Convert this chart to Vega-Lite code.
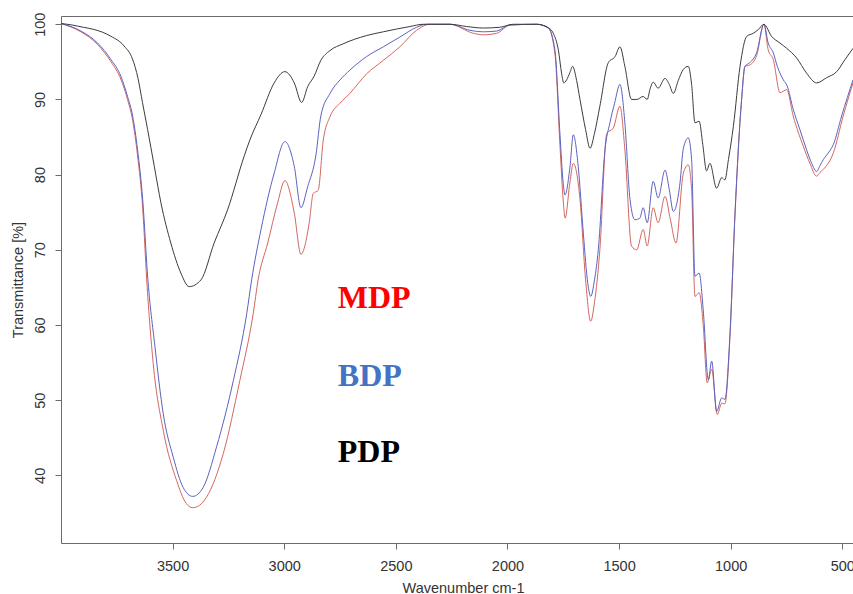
{
  "$schema": "https://vega.github.io/schema/vega-lite/v6.json",
  "width": 792,
  "height": 527,
  "autosize": {"type": "none"},
  "padding": {"left": 61, "top": 16, "right": 0, "bottom": 51},
  "background": "white",
  "config": {
    "view": {"stroke": null},
    "axis": {
      "grid": false,
      "domainColor": "#6b6b6b",
      "tickColor": "#6b6b6b",
      "labelColor": "#333333",
      "titleColor": "#333333",
      "labelFont": "Liberation Sans",
      "titleFont": "Liberation Sans",
      "labelFontSize": 14.5,
      "titleFontSize": 14.5,
      "titleFontWeight": "normal",
      "tickSize": 6
    }
  },
  "datasets": {
    "spectra": [
      {"sample": "MDP", "wn": 4000, "T": 100.1}, {"sample": "MDP", "wn": 3911, "T": 99.0}, {"sample": "MDP", "wn": 3836, "T": 97.3},
      {"sample": "MDP", "wn": 3776, "T": 95.0}, {"sample": "MDP", "wn": 3732, "T": 92.7}, {"sample": "MDP", "wn": 3702, "T": 90.0},
      {"sample": "MDP", "wn": 3679, "T": 87.2}, {"sample": "MDP", "wn": 3657, "T": 82.5}, {"sample": "MDP", "wn": 3634, "T": 75.5},
      {"sample": "MDP", "wn": 3616, "T": 66.0}, {"sample": "MDP", "wn": 3587, "T": 54.9}, {"sample": "MDP", "wn": 3542, "T": 46.0},
      {"sample": "MDP", "wn": 3482, "T": 39.3}, {"sample": "MDP", "wn": 3440, "T": 36.3}, {"sample": "MDP", "wn": 3410, "T": 35.7},
      {"sample": "MDP", "wn": 3380, "T": 36.0}, {"sample": "MDP", "wn": 3348, "T": 37.1}, {"sample": "MDP", "wn": 3273, "T": 42.9},
      {"sample": "MDP", "wn": 3199, "T": 52.6}, {"sample": "MDP", "wn": 3139, "T": 61.5}, {"sample": "MDP", "wn": 3117, "T": 66.0},
      {"sample": "MDP", "wn": 3074, "T": 70.9}, {"sample": "MDP", "wn": 3030, "T": 76.2}, {"sample": "MDP", "wn": 2997, "T": 79.2},
      {"sample": "MDP", "wn": 2955, "T": 74.9}, {"sample": "MDP", "wn": 2925, "T": 69.4}, {"sample": "MDP", "wn": 2888, "T": 73.6},
      {"sample": "MDP", "wn": 2870, "T": 77.5}, {"sample": "MDP", "wn": 2848, "T": 77.9}, {"sample": "MDP", "wn": 2825, "T": 84.6},
      {"sample": "MDP", "wn": 2795, "T": 87.7}, {"sample": "MDP", "wn": 2750, "T": 89.5}, {"sample": "MDP", "wn": 2706, "T": 90.8},
      {"sample": "MDP", "wn": 2631, "T": 93.4}, {"sample": "MDP", "wn": 2556, "T": 95.2}, {"sample": "MDP", "wn": 2482, "T": 97.0},
      {"sample": "MDP", "wn": 2407, "T": 99.2}, {"sample": "MDP", "wn": 2347, "T": 100.0}, {"sample": "MDP", "wn": 2258, "T": 100.0},
      {"sample": "MDP", "wn": 2153, "T": 98.8}, {"sample": "MDP", "wn": 2108, "T": 98.6}, {"sample": "MDP", "wn": 2048, "T": 98.8},
      {"sample": "MDP", "wn": 1989, "T": 99.9}, {"sample": "MDP", "wn": 1869, "T": 100.0}, {"sample": "MDP", "wn": 1817, "T": 99.5},
      {"sample": "MDP", "wn": 1787, "T": 96.0}, {"sample": "MDP", "wn": 1765, "T": 84.0}, {"sample": "MDP", "wn": 1750, "T": 76.5},
      {"sample": "MDP", "wn": 1742, "T": 74.2}, {"sample": "MDP", "wn": 1720, "T": 79.0}, {"sample": "MDP", "wn": 1705, "T": 81.5},
      {"sample": "MDP", "wn": 1675, "T": 76.7}, {"sample": "MDP", "wn": 1650, "T": 66.0}, {"sample": "MDP", "wn": 1627, "T": 60.5},
      {"sample": "MDP", "wn": 1610, "T": 63.0}, {"sample": "MDP", "wn": 1586, "T": 70.0}, {"sample": "MDP", "wn": 1555, "T": 85.5},
      {"sample": "MDP", "wn": 1526, "T": 86.2}, {"sample": "MDP", "wn": 1496, "T": 89.1}, {"sample": "MDP", "wn": 1474, "T": 83.3},
      {"sample": "MDP", "wn": 1444, "T": 70.5}, {"sample": "MDP", "wn": 1421, "T": 70.0}, {"sample": "MDP", "wn": 1392, "T": 72.7},
      {"sample": "MDP", "wn": 1374, "T": 70.5}, {"sample": "MDP", "wn": 1347, "T": 75.6}, {"sample": "MDP", "wn": 1325, "T": 73.6},
      {"sample": "MDP", "wn": 1294, "T": 77.1}, {"sample": "MDP", "wn": 1270, "T": 74.0}, {"sample": "MDP", "wn": 1245, "T": 70.9},
      {"sample": "MDP", "wn": 1212, "T": 80.2}, {"sample": "MDP", "wn": 1190, "T": 81.3}, {"sample": "MDP", "wn": 1175, "T": 78.0},
      {"sample": "MDP", "wn": 1160, "T": 63.8}, {"sample": "MDP", "wn": 1141, "T": 64.3}, {"sample": "MDP", "wn": 1123, "T": 60.0},
      {"sample": "MDP", "wn": 1105, "T": 52.3}, {"sample": "MDP", "wn": 1085, "T": 54.1}, {"sample": "MDP", "wn": 1060, "T": 48.1},
      {"sample": "MDP", "wn": 1040, "T": 49.6}, {"sample": "MDP", "wn": 1026, "T": 49.5}, {"sample": "MDP", "wn": 1003, "T": 58.5},
      {"sample": "MDP", "wn": 981, "T": 74.5}, {"sample": "MDP", "wn": 951, "T": 90.0}, {"sample": "MDP", "wn": 936, "T": 94.4},
      {"sample": "MDP", "wn": 914, "T": 94.6}, {"sample": "MDP", "wn": 884, "T": 95.8}, {"sample": "MDP", "wn": 851, "T": 100.0},
      {"sample": "MDP", "wn": 832, "T": 96.6}, {"sample": "MDP", "wn": 809, "T": 95.3}, {"sample": "MDP", "wn": 779, "T": 90.9},
      {"sample": "MDP", "wn": 749, "T": 91.3}, {"sample": "MDP", "wn": 720, "T": 87.8}, {"sample": "MDP", "wn": 675, "T": 83.8},
      {"sample": "MDP", "wn": 645, "T": 81.5}, {"sample": "MDP", "wn": 615, "T": 79.8}, {"sample": "MDP", "wn": 600, "T": 80.3},
      {"sample": "MDP", "wn": 585, "T": 80.7}, {"sample": "MDP", "wn": 540, "T": 82.9}, {"sample": "MDP", "wn": 496, "T": 87.8},
      {"sample": "MDP", "wn": 452, "T": 92.2},

      {"sample": "BDP", "wn": 4000, "T": 100.1}, {"sample": "BDP", "wn": 3911, "T": 99.1}, {"sample": "BDP", "wn": 3836, "T": 97.5},
      {"sample": "BDP", "wn": 3776, "T": 95.3}, {"sample": "BDP", "wn": 3732, "T": 93.1}, {"sample": "BDP", "wn": 3702, "T": 90.4},
      {"sample": "BDP", "wn": 3679, "T": 87.8}, {"sample": "BDP", "wn": 3657, "T": 83.3}, {"sample": "BDP", "wn": 3634, "T": 76.7},
      {"sample": "BDP", "wn": 3612, "T": 66.5}, {"sample": "BDP", "wn": 3579, "T": 57.1}, {"sample": "BDP", "wn": 3542, "T": 48.2},
      {"sample": "BDP", "wn": 3497, "T": 42.4}, {"sample": "BDP", "wn": 3453, "T": 38.4}, {"sample": "BDP", "wn": 3410, "T": 37.2},
      {"sample": "BDP", "wn": 3363, "T": 38.4}, {"sample": "BDP", "wn": 3303, "T": 43.8}, {"sample": "BDP", "wn": 3228, "T": 52.6},
      {"sample": "BDP", "wn": 3168, "T": 61.5}, {"sample": "BDP", "wn": 3146, "T": 66.0}, {"sample": "BDP", "wn": 3104, "T": 72.7},
      {"sample": "BDP", "wn": 3045, "T": 80.2}, {"sample": "BDP", "wn": 2997, "T": 84.4}, {"sample": "BDP", "wn": 2955, "T": 81.1},
      {"sample": "BDP", "wn": 2925, "T": 75.6}, {"sample": "BDP", "wn": 2895, "T": 78.4}, {"sample": "BDP", "wn": 2858, "T": 82.6},
      {"sample": "BDP", "wn": 2836, "T": 87.8}, {"sample": "BDP", "wn": 2795, "T": 90.8}, {"sample": "BDP", "wn": 2750, "T": 92.6},
      {"sample": "BDP", "wn": 2706, "T": 93.9}, {"sample": "BDP", "wn": 2631, "T": 95.7}, {"sample": "BDP", "wn": 2556, "T": 97.0},
      {"sample": "BDP", "wn": 2482, "T": 98.3}, {"sample": "BDP", "wn": 2407, "T": 99.6}, {"sample": "BDP", "wn": 2362, "T": 100.0},
      {"sample": "BDP", "wn": 2258, "T": 100.0}, {"sample": "BDP", "wn": 2168, "T": 99.2}, {"sample": "BDP", "wn": 2108, "T": 99.0},
      {"sample": "BDP", "wn": 2048, "T": 99.1}, {"sample": "BDP", "wn": 1989, "T": 99.9}, {"sample": "BDP", "wn": 1869, "T": 100.0},
      {"sample": "BDP", "wn": 1817, "T": 99.5}, {"sample": "BDP", "wn": 1787, "T": 96.5}, {"sample": "BDP", "wn": 1765, "T": 85.5},
      {"sample": "BDP", "wn": 1750, "T": 78.8}, {"sample": "BDP", "wn": 1742, "T": 77.3}, {"sample": "BDP", "wn": 1720, "T": 81.0},
      {"sample": "BDP", "wn": 1705, "T": 85.3}, {"sample": "BDP", "wn": 1683, "T": 81.1}, {"sample": "BDP", "wn": 1660, "T": 72.2},
      {"sample": "BDP", "wn": 1640, "T": 65.5}, {"sample": "BDP", "wn": 1627, "T": 63.8}, {"sample": "BDP", "wn": 1610, "T": 66.0},
      {"sample": "BDP", "wn": 1593, "T": 70.0}, {"sample": "BDP", "wn": 1563, "T": 83.3}, {"sample": "BDP", "wn": 1541, "T": 86.9},
      {"sample": "BDP", "wn": 1520, "T": 89.5}, {"sample": "BDP", "wn": 1496, "T": 92.0}, {"sample": "BDP", "wn": 1474, "T": 86.9},
      {"sample": "BDP", "wn": 1451, "T": 76.7}, {"sample": "BDP", "wn": 1429, "T": 74.0}, {"sample": "BDP", "wn": 1407, "T": 74.2},
      {"sample": "BDP", "wn": 1392, "T": 75.6}, {"sample": "BDP", "wn": 1374, "T": 73.6}, {"sample": "BDP", "wn": 1347, "T": 79.1},
      {"sample": "BDP", "wn": 1325, "T": 76.9}, {"sample": "BDP", "wn": 1294, "T": 80.6}, {"sample": "BDP", "wn": 1275, "T": 78.0},
      {"sample": "BDP", "wn": 1257, "T": 75.1}, {"sample": "BDP", "wn": 1227, "T": 78.9}, {"sample": "BDP", "wn": 1212, "T": 83.5},
      {"sample": "BDP", "wn": 1190, "T": 84.9}, {"sample": "BDP", "wn": 1175, "T": 82.0}, {"sample": "BDP", "wn": 1160, "T": 66.5},
      {"sample": "BDP", "wn": 1141, "T": 66.9}, {"sample": "BDP", "wn": 1123, "T": 62.0}, {"sample": "BDP", "wn": 1100, "T": 52.7},
      {"sample": "BDP", "wn": 1085, "T": 55.2}, {"sample": "BDP", "wn": 1063, "T": 48.5}, {"sample": "BDP", "wn": 1040, "T": 50.3},
      {"sample": "BDP", "wn": 1026, "T": 50.1}, {"sample": "BDP", "wn": 1003, "T": 58.9}, {"sample": "BDP", "wn": 981, "T": 74.5},
      {"sample": "BDP", "wn": 951, "T": 90.0}, {"sample": "BDP", "wn": 936, "T": 94.4}, {"sample": "BDP", "wn": 914, "T": 94.9},
      {"sample": "BDP", "wn": 884, "T": 96.2}, {"sample": "BDP", "wn": 851, "T": 100.0}, {"sample": "BDP", "wn": 832, "T": 97.5},
      {"sample": "BDP", "wn": 809, "T": 96.2}, {"sample": "BDP", "wn": 791, "T": 94.4}, {"sample": "BDP", "wn": 764, "T": 92.6},
      {"sample": "BDP", "wn": 747, "T": 91.8}, {"sample": "BDP", "wn": 720, "T": 88.7}, {"sample": "BDP", "wn": 690, "T": 86.0},
      {"sample": "BDP", "wn": 660, "T": 83.3}, {"sample": "BDP", "wn": 637, "T": 81.5}, {"sample": "BDP", "wn": 615, "T": 80.4},
      {"sample": "BDP", "wn": 600, "T": 81.2}, {"sample": "BDP", "wn": 585, "T": 82.0}, {"sample": "BDP", "wn": 560, "T": 83.0},
      {"sample": "BDP", "wn": 540, "T": 84.0}, {"sample": "BDP", "wn": 503, "T": 87.8}, {"sample": "BDP", "wn": 452, "T": 92.6},

      {"sample": "PDP", "wn": 4000, "T": 100.1}, {"sample": "PDP", "wn": 3950, "T": 99.9}, {"sample": "PDP", "wn": 3900, "T": 99.6},
      {"sample": "PDP", "wn": 3851, "T": 99.3}, {"sample": "PDP", "wn": 3776, "T": 98.4}, {"sample": "PDP", "wn": 3717, "T": 97.1},
      {"sample": "PDP", "wn": 3680, "T": 95.4}, {"sample": "PDP", "wn": 3655, "T": 92.8}, {"sample": "PDP", "wn": 3635, "T": 89.6},
      {"sample": "PDP", "wn": 3612, "T": 86.0}, {"sample": "PDP", "wn": 3582, "T": 81.1}, {"sample": "PDP", "wn": 3552, "T": 76.2},
      {"sample": "PDP", "wn": 3508, "T": 70.9}, {"sample": "PDP", "wn": 3463, "T": 66.9}, {"sample": "PDP", "wn": 3426, "T": 65.1},
      {"sample": "PDP", "wn": 3373, "T": 66.0}, {"sample": "PDP", "wn": 3314, "T": 70.9}, {"sample": "PDP", "wn": 3254, "T": 75.3},
      {"sample": "PDP", "wn": 3179, "T": 82.5}, {"sample": "PDP", "wn": 3154, "T": 84.6}, {"sample": "PDP", "wn": 3104, "T": 88.0},
      {"sample": "PDP", "wn": 3045, "T": 92.2}, {"sample": "PDP", "wn": 2997, "T": 93.7}, {"sample": "PDP", "wn": 2955, "T": 92.2},
      {"sample": "PDP", "wn": 2922, "T": 89.6}, {"sample": "PDP", "wn": 2895, "T": 91.7}, {"sample": "PDP", "wn": 2866, "T": 93.1},
      {"sample": "PDP", "wn": 2836, "T": 95.2}, {"sample": "PDP", "wn": 2795, "T": 96.5}, {"sample": "PDP", "wn": 2736, "T": 97.4},
      {"sample": "PDP", "wn": 2631, "T": 98.5}, {"sample": "PDP", "wn": 2556, "T": 99.0}, {"sample": "PDP", "wn": 2437, "T": 99.7},
      {"sample": "PDP", "wn": 2377, "T": 100.0}, {"sample": "PDP", "wn": 2258, "T": 100.0}, {"sample": "PDP", "wn": 2183, "T": 99.7},
      {"sample": "PDP", "wn": 2108, "T": 99.5}, {"sample": "PDP", "wn": 2034, "T": 99.6}, {"sample": "PDP", "wn": 1974, "T": 100.0},
      {"sample": "PDP", "wn": 1869, "T": 100.0}, {"sample": "PDP", "wn": 1820, "T": 99.6}, {"sample": "PDP", "wn": 1790, "T": 98.5},
      {"sample": "PDP", "wn": 1772, "T": 96.6}, {"sample": "PDP", "wn": 1757, "T": 93.4}, {"sample": "PDP", "wn": 1748, "T": 92.2},
      {"sample": "PDP", "wn": 1735, "T": 92.6}, {"sample": "PDP", "wn": 1720, "T": 93.6}, {"sample": "PDP", "wn": 1708, "T": 94.4},
      {"sample": "PDP", "wn": 1690, "T": 92.5}, {"sample": "PDP", "wn": 1675, "T": 90.0}, {"sample": "PDP", "wn": 1650, "T": 86.0},
      {"sample": "PDP", "wn": 1630, "T": 83.5}, {"sample": "PDP", "wn": 1610, "T": 85.5}, {"sample": "PDP", "wn": 1586, "T": 89.1},
      {"sample": "PDP", "wn": 1548, "T": 94.9}, {"sample": "PDP", "wn": 1518, "T": 95.7}, {"sample": "PDP", "wn": 1496, "T": 97.0},
      {"sample": "PDP", "wn": 1474, "T": 94.4}, {"sample": "PDP", "wn": 1444, "T": 90.0}, {"sample": "PDP", "wn": 1420, "T": 90.0},
      {"sample": "PDP", "wn": 1392, "T": 90.4}, {"sample": "PDP", "wn": 1374, "T": 90.0}, {"sample": "PDP", "wn": 1360, "T": 91.5},
      {"sample": "PDP", "wn": 1347, "T": 92.3}, {"sample": "PDP", "wn": 1325, "T": 91.5}, {"sample": "PDP", "wn": 1294, "T": 92.8},
      {"sample": "PDP", "wn": 1275, "T": 92.0}, {"sample": "PDP", "wn": 1257, "T": 90.8}, {"sample": "PDP", "wn": 1235, "T": 92.5},
      {"sample": "PDP", "wn": 1212, "T": 94.0}, {"sample": "PDP", "wn": 1190, "T": 94.4}, {"sample": "PDP", "wn": 1175, "T": 92.0},
      {"sample": "PDP", "wn": 1160, "T": 86.9}, {"sample": "PDP", "wn": 1141, "T": 87.1}, {"sample": "PDP", "wn": 1125, "T": 84.0},
      {"sample": "PDP", "wn": 1108, "T": 80.5}, {"sample": "PDP", "wn": 1093, "T": 81.5}, {"sample": "PDP", "wn": 1063, "T": 78.2},
      {"sample": "PDP", "wn": 1040, "T": 79.6}, {"sample": "PDP", "wn": 1026, "T": 79.3}, {"sample": "PDP", "wn": 1010, "T": 82.0},
      {"sample": "PDP", "wn": 988, "T": 86.4}, {"sample": "PDP", "wn": 958, "T": 94.4}, {"sample": "PDP", "wn": 928, "T": 98.4},
      {"sample": "PDP", "wn": 899, "T": 98.8}, {"sample": "PDP", "wn": 876, "T": 99.3}, {"sample": "PDP", "wn": 851, "T": 100.0},
      {"sample": "PDP", "wn": 817, "T": 98.4}, {"sample": "PDP", "wn": 779, "T": 97.5}, {"sample": "PDP", "wn": 749, "T": 96.8},
      {"sample": "PDP", "wn": 704, "T": 95.5}, {"sample": "PDP", "wn": 660, "T": 93.5}, {"sample": "PDP", "wn": 615, "T": 92.2},
      {"sample": "PDP", "wn": 570, "T": 92.9}, {"sample": "PDP", "wn": 525, "T": 93.7}, {"sample": "PDP", "wn": 488, "T": 95.3},
      {"sample": "PDP", "wn": 452, "T": 96.8}
    ],
    "labels": [
      {"label": "MDP", "wn": 2760, "T": 62.2},
      {"label": "BDP", "wn": 2760, "T": 51.9},
      {"label": "PDP", "wn": 2760, "T": 41.8}
    ]
  },
  "layer": [
    {
      "data": {"name": "spectra"},
      "mark": {"type": "line", "strokeWidth": 1, "interpolate": "monotone", "clip": true},
      "encoding": {
        "x": {
          "field": "wn", "type": "quantitative",
          "scale": {"domain": [452, 4000], "reverse": true, "nice": false, "zero": false},
          "axis": {
            "values": [500, 1000, 1500, 2000, 2500, 3000, 3500],
            "format": "d",
            "title": "Wavenumber cm-1",
            "labelPadding": 10,
            "labelFlush": false,
            "labelOverlap": false,
            "titleX": 402,
            "titleY": 38,
            "titleBaseline": "top"
          }
        },
        "y": {
          "field": "T", "type": "quantitative",
          "scale": {"domain": [31, 101.1], "nice": false, "zero": false},
          "axis": {
            "values": [40, 50, 60, 70, 80, 90, 100],
            "format": "d",
            "title": "Transmittance [%]",
            "labelAngle": -90,
            "labelAlign": "center",
            "labelBaseline": "alphabetic",
            "labelPadding": 11,
            "labelOverlap": false,
            "titleX": -39,
            "titleBaseline": "alphabetic"
          }
        },
        "color": {
          "field": "sample", "type": "nominal",
          "scale": {"domain": ["MDP", "BDP", "PDP"], "range": ["#d4675f", "#5c62c0", "#3c3c3c"]},
          "legend": null
        }
      }
    },
    {
      "data": {"name": "labels"},
      "mark": {"type": "text", "font": "Liberation Serif", "fontWeight": "bold", "fontSize": 32, "align": "left", "baseline": "alphabetic"},
      "encoding": {
        "x": {
          "field": "wn", "type": "quantitative",
          "axis": {"orient": "top", "labels": false, "ticks": false, "title": null, "domain": true}
        },
        "y": {"field": "T", "type": "quantitative"},
        "text": {"field": "label"},
        "color": {
          "field": "label", "type": "nominal",
          "scale": {"domain": ["MDP", "BDP", "PDP"], "range": ["#ff0000", "#4472c4", "#000000"]},
          "legend": null
        }
      }
    }
  ],
  "resolve": {"scale": {"color": "independent"}, "axis": {"x": "independent"}}
}
